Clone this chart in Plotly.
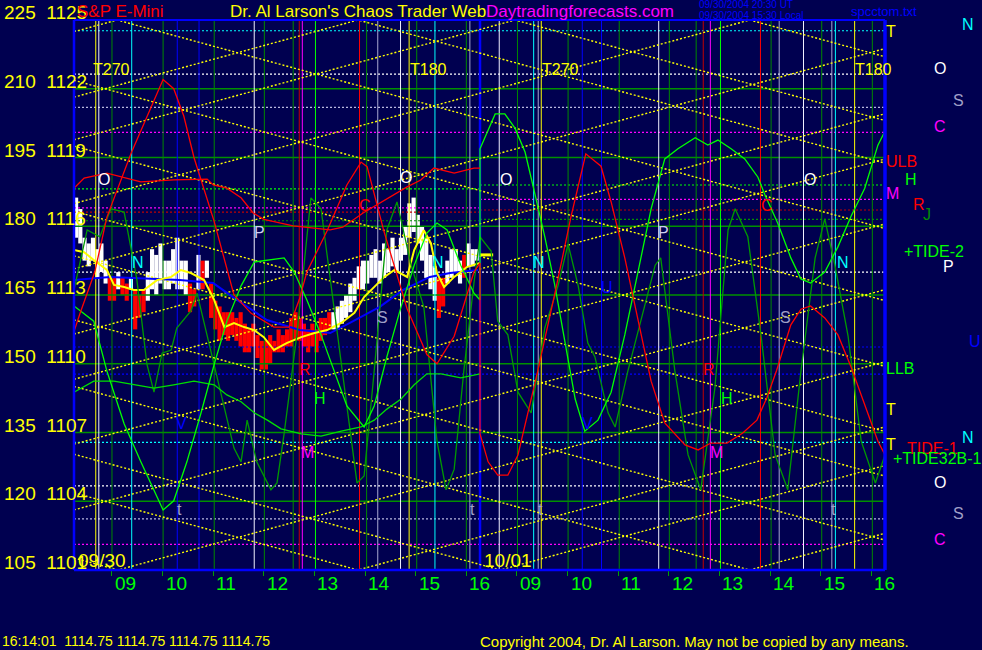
import plotly.graph_objects as go

# ------------------------------------------------------------------ data
price_ticks = [1125, 1122, 1119, 1116, 1113, 1110, 1107, 1104, 1101]
tide_ticks = [225, 210, 195, 180, 165, 150, 135, 120, 105]
hour_ticks = [9, 10, 11, 12, 13, 14, 15, 16]
hour_labels = ["09", "10", "11", "12", "13", "14", "15", "16"]
day_labels = ["09/30", "10/01"]
last_price = 1114.75

# 5-minute price bars, day 1 (09/30), 08:15 .. 16:15
bar_high = [1117.25, 1116.75, 1115.5, 1115.25, 1115.5, 1115.0, 1115.25, 1114.5,
            1113.75, 1113.75, 1114.0, 1113.75, 1113.5, 1113.75, 1113.25, 1113.0, 1113.25, 1114.0, 1115.0, 1114.75,
            1115.25, 1114.5, 1114.5, 1115.0, 1115.5, 1114.5, 1114.5, 1113.5, 1113.25, 1114.75, 1114.5, 1114.5,
            1113.5, 1112.75, 1112.5, 1112.25, 1112.25, 1112.25, 1112.0, 1112.25, 1111.75, 1111.5, 1111.75, 1111.25,
            1111.0, 1111.0, 1111.25, 1111.0, 1111.5, 1111.25, 1111.5, 1112.0, 1112.25, 1112.0, 1111.75, 1111.5,
            1111.75, 1111.5, 1112.0, 1112.0, 1112.25, 1112.25, 1112.5, 1112.75, 1113.0, 1113.5, 1113.75, 1114.25,
            1114.5, 1114.5, 1114.75, 1115.0, 1114.5, 1115.25, 1115.0, 1115.5, 1115.0, 1115.5, 1116.0, 1117.0,
            1117.25, 1116.5, 1116.0, 1115.5, 1114.75, 1114.25, 1113.75, 1113.75, 1114.5, 1115.0, 1115.0, 1114.5,
            1114.75, 1115.25, 1115.0, 1115.0]
bar_low = [1115.5, 1115.25, 1114.5, 1114.25, 1114.5, 1113.75, 1114.0, 1113.5,
           1112.75, 1112.75, 1113.25, 1113.0, 1112.75, 1113.25, 1111.5, 1112.0, 1112.25, 1112.75, 1113.25, 1113.0,
           1113.5, 1113.25, 1113.25, 1113.5, 1113.25, 1113.25, 1113.0, 1112.25, 1112.5, 1113.25, 1113.25, 1113.75,
           1112.0, 1111.5, 1111.0, 1111.25, 1111.0, 1111.25, 1111.0, 1110.75, 1110.5, 1110.5, 1110.75, 1110.25,
           1109.75, 1109.75, 1110.0, 1110.5, 1110.5, 1110.5, 1110.75, 1110.75, 1111.0, 1111.0, 1110.75, 1110.5,
           1110.75, 1110.5, 1111.0, 1111.25, 1111.5, 1111.5, 1111.5, 1111.75, 1112.0, 1112.25, 1112.75, 1113.25,
           1113.25, 1113.5, 1113.75, 1113.75, 1113.5, 1113.75, 1114.0, 1114.25, 1114.0, 1114.5, 1114.75, 1115.5,
           1115.75, 1115.25, 1114.5, 1113.75, 1113.25, 1112.75, 1112.0, 1112.5, 1113.5, 1113.75, 1114.0, 1113.5,
           1113.75, 1114.25, 1114.25, 1114.5]
bar_up = [1, 1, 1, 1, 1, 1, 1, 1,
          0, 0, 1, 0, 0, 1, 0, 0, 0, 1, 1, 1,
          1, 1, 1, 1, 1, 1, 1, 0, 0, 1, 0, 1,
          0, 0, 0, 0, 0, 0, 0, 0, 0, 0, 0, 0,
          0, 0, 0, 0, 0, 0, 0, 0, 0, 0, 0, 0,
          0, 0, 0, 0, 0, 1, 1, 1, 1, 1, 1, 1,
          1, 1, 1, 1, 1, 1, 1, 1, 1, 1, 1, 1,
          1, 1, 1, 1, 1, 1, 0, 0, 1, 1, 1, 1,
          0, 1, 1, 1]
bar_t = [8.25 + (i + 0.5) / 12 for i in range(len(bar_high))]

# smoothed price lines (day 1)
ma_fast_t = [8.25, 8.45, 8.64, 8.90, 9.04, 9.24, 9.43, 9.63, 9.89, 10.17, 10.36, 10.56, 10.82, 11.02, 11.22,
             11.41, 11.61, 11.81, 12.00, 12.20, 12.46, 12.74, 13.00, 13.25, 13.53, 13.79, 13.98, 14.18, 14.38,
             14.58, 14.83, 14.97, 15.16, 15.30, 15.42, 15.56, 15.76, 16.01, 16.27]
ma_fast_v = [1114.96, 1114.87, 1114.53, 1114.09, 1113.44, 1113.35, 1113.22, 1113.22, 1113.65, 1113.79, 1114.09,
             1113.96, 1113.65, 1112.78, 1111.60, 1111.78, 1111.60, 1111.47, 1111.16, 1110.60, 1110.91, 1111.16,
             1111.34, 1111.47, 1111.78, 1112.22, 1112.91, 1113.35, 1113.79, 1114.09, 1113.79, 1114.96, 1115.83,
             1115.26, 1113.96, 1113.35, 1113.79, 1114.22, 1114.40]
ma_slow_t = [8.25, 8.96, 10.34, 11.0, 11.39, 12.06, 12.71, 13.31, 13.70, 14.29, 14.75, 15.28, 15.68, 16.23]
ma_slow_v = [1113.65, 1113.79, 1113.65, 1113.52, 1112.91, 1111.91, 1111.47, 1111.34, 1111.78, 1112.48,
             1113.22, 1113.79, 1113.96, 1114.09]

# tide curves (left scale 105..225)
tide1_d1_t = [8.25, 8.37, 8.66, 8.90, 9.38, 10.01, 10.22, 10.42, 10.62, 11.02, 11.41, 11.75, 12.20, 12.50,
              12.70, 12.85, 13.25, 13.64, 13.92, 14.04, 14.37, 14.83, 15.22, 15.42, 15.76, 16.15, 16.27]
tide1_d1_v = [157, 161, 170, 182, 196, 212, 210, 204, 195, 181, 165, 161, 158, 158, 164, 170, 179, 189, 194,
              193, 179, 162, 152, 150, 156, 170, 172]
tide1_d2_t = [8.27, 8.43, 8.62, 8.82, 9.02, 9.41, 9.75, 10.07, 10.36, 10.66, 10.86, 11.13, 11.39, 11.65,
              11.92, 12.32, 12.58, 12.83, 13.15, 13.46, 13.74, 13.94, 14.13, 14.41, 14.61, 14.80, 15.08, 15.34,
              15.60, 15.87, 16.13, 16.27]
tide1_d2_v = [134.7, 128.6, 125.7, 125.7, 130.1, 148.4, 165.4, 182.2, 195.8, 193.1, 185.3, 173.1, 160.0, 146.2,
              137.1, 132.3, 131.2, 132.7, 132.7, 134.9, 137.7, 142.7, 148.6, 158.5, 161.9, 162.6, 160.0, 156.3,
              149.3, 140.8, 133.1, 130.1]
ulb_d1_t = [8.25, 8.45, 8.90, 9.57, 10.22, 10.88, 11.0, 11.27, 11.55, 11.79, 12.0, 12.58, 13.31, 13.56, 13.96,
            14.29, 14.63, 14.83, 15.1, 15.36, 15.76, 16.15, 16.27]
ulb_d1_v = [188.3, 190.5, 191.6, 189.7, 190.1, 190.3, 189.0, 188.3, 186.2, 182.9, 181.5, 180.1, 179.2, 179.8,
            182.9, 185.1, 187.3, 188.6, 190.1, 192.7, 191.6, 192.7, 192.7]
tide2_d1_t = [8.25, 8.64, 8.90, 9.24, 9.57, 10.01, 10.22, 10.48, 10.76, 11.02, 11.27, 11.55, 11.81, 12.40,
              12.60, 12.85, 13.13, 13.39, 13.64, 13.98, 14.18, 14.43, 14.71, 14.97, 15.22, 15.42, 15.62, 15.89,
              16.15, 16.27]
tide2_d1_v = [162.6, 159.3, 148.4, 136.9, 128.6, 118.1, 120.1, 128.6, 139.3, 149.9, 159.3, 167.0, 172.2, 173.1,
              170.0, 163.9, 156.3, 148.4, 140.8, 136.2, 140.8, 151.5, 162.4, 171.5, 178.5, 180.7, 179.2, 171.5,
              165.4, 163.9]
tide2_d2_t = [8.27, 8.57, 8.76, 8.96, 9.16, 9.36, 9.55, 9.75, 9.95, 10.15, 10.34, 10.60, 10.86, 11.13, 11.39,
              11.65, 11.92, 12.18, 12.52, 12.77, 12.97, 13.23, 13.50, 13.76, 13.90, 14.15, 14.41, 14.61, 14.80,
              15.08, 15.34, 15.60, 15.87, 16.13, 16.27]
tide2_d2_v = [196.9, 204.5, 204.5, 201.4, 196.2, 186.8, 177.7, 167.0, 154.5, 142.3, 135.3, 137.7, 143.8, 156.3,
              170.0, 183.8, 194.7, 196.9, 199.3, 197.7, 198.8, 196.9, 194.7, 190.7, 186.8, 180.7, 173.1, 168.5,
              167.6, 170.0, 175.5, 182.2, 188.3, 197.7, 200.8]
llb_d1_t = [8.25, 8.64, 9.04, 9.43, 9.83, 10.22, 10.62, 11.02, 11.27, 11.55, 11.81, 12.07, 12.34, 12.74, 13.13,
            13.53, 13.92, 14.18, 14.43, 14.71, 14.97, 15.22, 15.50, 15.89, 16.27]
llb_d1_v = [143.8, 146.2, 146.2, 145.4, 144.7, 145.4, 146.2, 145.4, 143.2, 141.7, 139.3, 137.7, 135.8, 134.7,
            134.2, 135.3, 136.2, 137.7, 140.1, 142.3, 145.4, 147.8, 147.8, 146.9, 147.8]
tide32_d1_t = [8.25, 8.51, 8.76, 8.98, 9.24, 9.49, 9.69, 9.83, 9.99, 10.17, 10.28, 10.56, 10.68, 10.88, 11.15,
               11.41, 11.55, 11.67, 11.86, 12.14, 12.26, 12.40, 12.65, 12.93, 13.13, 13.39, 13.64, 13.84, 13.98,
               14.18, 14.43, 14.63, 14.91, 15.16, 15.42, 15.60, 15.76, 15.95, 16.15, 16.27]
tide32_d1_v = [166.1, 179.2, 177.7, 183.8, 183.1, 168.5, 149.9, 143.8, 152.3, 153.0, 157.8, 161.5, 165.4, 156.3,
               143.8, 131.6, 128.6, 137.7, 128.6, 122.5, 124.0, 134.7, 156.1, 186.2, 183.8, 162.4, 140.8, 124.0,
               125.5, 148.4, 179.2, 185.3, 171.5, 162.4, 133.1, 122.5, 127.0, 148.4, 167.6, 177.7]
tide32_d2_t = [8.27, 8.49, 8.62, 8.82, 9.02, 9.28, 9.55, 9.81, 10.01, 10.21, 10.40, 10.54, 10.80, 10.94, 11.19,
               11.45, 11.73, 11.84, 12.12, 12.38, 12.63, 12.91, 13.17, 13.31, 13.56, 13.82, 14.10, 14.35, 14.61,
               14.89, 15.08, 15.28, 15.54, 15.80, 16.08, 16.27]
tide32_d2_v = [177.7, 174.6, 159.3, 156.3, 143.8, 139.3, 157.8, 167.0, 176.1, 167.0, 154.5, 151.5, 139.3, 136.2,
               148.4, 159.3, 171.5, 173.1, 148.4, 130.1, 122.5, 144.7, 179.2, 183.8, 177.7, 156.3, 130.1, 122.5,
               148.4, 173.1, 181.6, 171.5, 156.1, 133.1, 124.0, 130.1]

# time lines (clock hours) per day
vl_hour_d1 = [9.00, 10.01, 11.02, 12.01, 12.58, 14.03, 15.02, 16.00]
vl_hour_d2 = [9.01, 10.01, 11.02, 12.01, 12.54, 14.02, 15.02, 16.02]
vl_green_d1 = [13.02]
vl_green_d2 = [13.02]
vl_yellow_d1 = [8.68, 14.87]
vl_yellow_d2 = [9.48, 15.67]
vl_white_d1 = [8.74, 11.81, 14.70]
vl_white_d2 = [8.65, 11.80, 14.66]
vl_gray_d1 = [14.25, 16.07]
vl_gray_d2 = [9.42, 14.18, 15.22]
vl_cyan_d1 = [9.39, 15.38]
vl_cyan_d2 = [9.33, 15.29]
vl_blue_d1 = [10.29, 10.72]
vl_blue_d2 = [10.29, 10.67]
vl_dkred_d1 = [12.70]
vl_dkred_d2 = [12.68]
vl_red_d1 = [13.89]
vl_red_d2 = [13.81]
vl_mag_d1 = [12.76]
vl_mag_d2 = [12.82]
day_break = 16.27

# price levels
hl_cyan = [1124.53, 1106.57]
hl_white = [1122.64, 1114.00, 1104.67]
hl_gray = [1121.19, 1103.23]
hl_mag = [1120.10, 1102.12]
hl_blue = [1110.73, 1109.55]
hl_d1_green, hl_d2_green = [1117.63], [1117.80]
hl_d1_mag, hl_d2_mag = [1116.80], [1117.17]
hl_d1_red, hl_d2_red = [1116.62], [1116.71]
hl_d1_dkgreen, hl_d2_dkgreen = [1116.24], [1116.30]

# pivot hours of the time/price fan (hours from 09/30 09:00)
fan_top_pivots = [-14.66, -9.92, -5.14, 0.10, 4.86, 7.96, 12.60, 17.35, 22.09]
fan_bot_pivots = [-14.62, -9.90, -5.12, 0.12, 4.86, 7.67, 12.60, 17.44, 22.10]
fan_slope = 0.6

# ------------------------------------------------------------------ helpers
BG = "#000050"
FONT = "Liberation Sans, Arial, Helvetica, sans-serif"
X_MIN, X_MAX = -0.75, 15.27
P_MIN, P_MAX = 1101.0, 1125.0
T_MIN, T_MAX = 105, 225
L, R, T, B = 74, 97, 20, 80
PW, PH = 982 - L - R, 650 - T - B


def a1(t):
    return t - 9.0


def a2(t):
    return t - 1.0


def seg(x0s, x1s, y0s, y1s, color, width, dash=None, yaxis="y"):
    X, Y = [], []
    for a, b, c, d in zip(x0s, x1s, y0s, y1s):
        X += [a, b, None]
        Y += [c, d, None]
    return go.Scatter(x=X, y=Y, mode="lines", yaxis=yaxis, hoverinfo="skip",
                      line=dict(color=color, width=width, dash=dash))


def vlines(d1, d2, color, width=1):
    xs = [a1(t) for t in d1] + [a2(t) for t in d2]
    return seg(xs, xs, [P_MIN] * len(xs), [P_MAX] * len(xs), color, width)


def hlines(levels, color, x0=X_MIN, x1=X_MAX):
    n = len(levels)
    return seg([x0] * n, [x1] * n, levels, levels, color, 1.2, "2px,2px")


fig = go.Figure()

# green price grid
fig.add_trace(seg([X_MIN] * 7, [X_MAX] * 7, price_ticks[1:-1], price_ticks[1:-1], "#009000", 1.3))

# dotted levels
brk = a1(day_break)
for lv, c in [(hl_cyan, "#00ffff"), (hl_white, "#ffffff"), (hl_gray, "#b8b8e0"),
              (hl_mag, "#ff00ff"), (hl_blue, "#0000ff")]:
    fig.add_trace(hlines(lv, c))
for lv1, lv2, c in [(hl_d1_green, hl_d2_green, "#00ff00"), (hl_d1_mag, hl_d2_mag, "#ff00ff"),
                    (hl_d1_red, hl_d2_red, "#c00000"), (hl_d1_dkgreen, hl_d2_dkgreen, "#009000")]:
    fig.add_trace(hlines(lv1, c, X_MIN, brk))
    fig.add_trace(hlines(lv2, c, brk, X_MAX))

# vertical time lines
fig.add_trace(vlines(vl_hour_d1, vl_hour_d2, "#008800"))
fig.add_trace(vlines(vl_gray_d1, vl_gray_d2, "#a8a8d0"))
fig.add_trace(vlines(vl_white_d1, vl_white_d2, "#f0f0ff"))
fig.add_trace(vlines(vl_cyan_d1, vl_cyan_d2, "#00ffff"))
fig.add_trace(vlines(vl_blue_d1, vl_blue_d2, "#0000ff"))
fig.add_trace(vlines(vl_yellow_d1, vl_yellow_d2, "#ffff00"))
fig.add_trace(vlines(vl_dkred_d1, vl_dkred_d2, "#c00000"))
fig.add_trace(vlines(vl_red_d1, vl_red_d2, "#ff0000"))
fig.add_trace(vlines(vl_mag_d1, vl_mag_d2, "#ff00ff"))
fig.add_trace(vlines(vl_green_d1, vl_green_d2, "#00ff00"))
fig.add_trace(seg([brk], [brk], [P_MIN], [P_MAX], "#0000ff", 2.5))

# fan of dotted time/price lines reflecting off top and bottom
FX, FY = [], []
for piv, base, sgn in [(p, P_MAX, -1) for p in fan_top_pivots] + [(p, P_MIN, 1) for p in fan_bot_pivots]:
    xs = [X_MIN, piv, X_MAX] if X_MIN < piv < X_MAX else [X_MIN, X_MAX]
    FX += xs + [None]
    FY += [base + sgn * fan_slope * abs(x - piv) for x in xs] + [None]
fig.add_trace(go.Scatter(x=FX, y=FY, mode="lines", hoverinfo="skip",
                         line=dict(color="#ffff00", width=1.4, dash="2px,2px")))


# tide curves
def tide_trace(t1, v1, t2, v2, color, width):
    xs = [a1(t) for t in t1] + [a2(t) for t in t2]
    return go.Scatter(x=xs, y=list(v1) + list(v2), yaxis="y2", mode="lines", hoverinfo="skip",
                      line=dict(color=color, width=width))


fig.add_trace(tide_trace(tide32_d1_t, tide32_d1_v, tide32_d2_t, tide32_d2_v, "#009a00", 1.3))
fig.add_trace(tide_trace(llb_d1_t, llb_d1_v, [], [], "#00e000", 1.3))
fig.add_trace(tide_trace(tide2_d1_t, tide2_d1_v, tide2_d2_t, tide2_d2_v, "#00ff00", 1.3))
fig.add_trace(tide_trace(ulb_d1_t, ulb_d1_v, [], [], "#ff0000", 1.3))
fig.add_trace(tide_trace(tide1_d1_t, tide1_d1_v, tide1_d2_t, tide1_d2_v, "#ff0000", 1.3))

# price bars
fig.add_trace(go.Bar(x=[a1(t) for t in bar_t], y=[h - l for h, l in zip(bar_high, bar_low)], base=bar_low,
                     width=0.082, marker=dict(color=["#ffffff" if u else "#ff0000" for u in bar_up],
                                              line=dict(width=0)), hoverinfo="skip"))
fig.add_trace(go.Scatter(x=[a1(t) for t in ma_slow_t], y=ma_slow_v, mode="lines", hoverinfo="skip",
                         line=dict(color="#0000ff", width=2)))
fig.add_trace(go.Scatter(x=[a1(t) for t in ma_fast_t], y=ma_fast_v, mode="lines", hoverinfo="skip",
                         line=dict(color="#ffff00", width=2)))
fig.add_trace(go.Scatter(x=[brk, brk + 0.26], y=[last_price, last_price], mode="lines", hoverinfo="skip",
                         line=dict(color="#ffff00", width=3)))


# ------------------------------------------------------------------ text
def px(X):
    return (X - L) / PW


def py(Y):
    return (650 - B - Y) / PH


ann = []


def text(s, X, Y, color, size, anchor="left"):
    ann.append(dict(text=s, x=px(X), y=py(Y), xref="paper", yref="paper", xanchor=anchor, yanchor="middle",
                    showarrow=False, borderpad=0, font=dict(family=FONT, size=size, color=color)))


def dtext(s, x, y, color, size=16):
    ann.append(dict(text=s, x=x, y=y, xref="x", yref="y", xanchor="center", yanchor="middle",
                    showarrow=False, font=dict(family=FONT, size=size, color=color)))


# left scale
for tv, pv in zip(tide_ticks, price_ticks):
    ann.append(dict(text=f"{tv}&nbsp;&nbsp;{pv}", x=px(2), y=pv, xref="paper", yref="y", xanchor="left",
                    yanchor="bottom", yshift=-5, showarrow=False,
                    font=dict(family=FONT, size=19, color="#ffff00")))
# hour labels
for conv in (a1, a2):
    for h, lab in zip(hour_ticks, hour_labels):
        ann.append(dict(text=lab, x=conv(h), y=0, xref="x", yref="paper", xanchor="left", yanchor="top",
                        xshift=1, yshift=-1, showarrow=False,
                        font=dict(family=FONT, size=19, color="#00ff00")))
text(day_labels[0], 77, 560, "#ffff00", 19)
text(day_labels[1], 483, 560, "#ffff00", 19)

# header / footer
text("S&amp;P E-Mini", 76, 11, "#ff0000", 17)
text("Dr. Al Larson's Chaos Trader Web", 229, 11, "#ffff00", 17)
text("Daytradingforecasts.com", 485, 11, "#ff00ff", 17)
text("09/30/2004 20:30 UT", 698, 5, "#0000ff", 10)
text("09/30/2004 15:30 Local", 698, 15, "#0000ff", 10)
text("spcctom.txt", 850, 11, "#0000ff", 13)
text("16:14:01&nbsp;&nbsp;1114.75 1114.75 1114.75 1114.75", 1, 641, "#ffff00", 14)
text("Copyright 2004, Dr. Al Larson. May not be copied by any means.", 479, 641, "#ffff00", 15)

# in-chart markers
dtext("T270", a1(9.0), 1122.86, "#ffff00")
dtext("T180", a1(15.26), 1122.86, "#ffff00")
dtext("T270", a2(9.86), 1122.86, "#ffff00")
dtext("T180", a2(16.05), 1122.86, "#ffff00")
for d, conv in [(1, a1), (2, a2)]:
    dtext("O", conv(8.84 if d == 1 else 14.79), 1118.05, "#ffffff")
    dtext("N", conv(9.51 if d == 1 else 15.44), 1114.44, "#00ffff")
    dtext("P", conv(11.92 if d == 1 else 11.89), 1115.71, "#d0d0f0")
    dtext("S", conv(14.35 if d == 1 else 14.30), 1112.04, "#a0a0c8")
    dtext("C", conv(14.00 if d == 1 else 13.94), 1116.9, "#ff0000")
    dtext("R", conv(12.81 if d == 1 else 12.79), 1109.73, "#ff0000")
    dtext("H", conv(13.11 if d == 1 else 13.15), 1108.5, "#00ff00")
    dtext("M", conv(12.87 if d == 1 else 12.95), 1106.11, "#ff00ff")
    dtext("t", conv(10.34 if d == 1 else 15.26), 1103.66, "#a0a0c8")
    dtext("V", conv(10.38 if d == 1 else 10.40), 1107.4, "#0000ff")
dtext("O", a2(8.78), 1118.05, "#ffffff")
dtext("N", a2(9.44), 1114.44, "#00ffff")
dtext("O", a1(14.81), 1118.11, "#ffffff")
dtext("N", a1(15.44), 1114.44, "#00ffff")
dtext("t", a1(16.13), 1103.66, "#a0a0c8")
dtext("t", a2(9.47), 1103.66, "#a0a0c8")
dtext("U", a2(10.78), 1113.31, "#0000ff")

# right side legend letters
side = [("T", 885, 31, "#ffff00"), ("N", 961, 24, "#00ffff"), ("O", 933, 68, "#ffffff"),
        ("S", 952, 101, "#a0a0c8"), ("C", 933, 126, "#ff00ff"), ("ULB", 885, 161, "#ff0000"),
        ("H", 904, 179, "#00ff00"), ("M", 885, 193, "#ff00ff"), ("R", 912, 204, "#ff0000"),
        ("J", 922, 214, "#009000"), ("+TIDE-2", 903, 251, "#00ff00"), ("P", 942, 266, "#ffffff"),
        ("U", 968, 341, "#0000ff"), ("LLB", 885, 368, "#00ff00"), ("T", 885, 409, "#ffff00"),
        ("N", 961, 437, "#00ffff"), ("T", 885, 444, "#ffff00"), ("TIDE-1", 906, 448, "#ff0000"),
        ("+TIDE32B-1", 892, 458, "#00ff00"), ("O", 933, 482, "#ffffff"), ("S", 952, 513, "#a0a0c8"),
        ("C", 933, 539, "#ff00ff")]
for s, X, Y, c in side:
    text(s, X, Y, c, 16)

shapes = [
    dict(type="line", xref="paper", yref="paper", x0=0, x1=0, y0=0, y1=1, line=dict(color="#0000ff", width=2.5)),
    dict(type="line", xref="paper", yref="paper", x0=0, x1=1, y0=1, y1=1, line=dict(color="#0000ff", width=2)),
    dict(type="line", xref="paper", yref="paper", x0=0, x1=1, y0=0, y1=0, line=dict(color="#0000ff", width=2.5)),
    dict(type="line", xref="paper", yref="paper", x0=1, x1=1, y0=0, y1=1, line=dict(color="#0000ff", width=3.5)),
]

fig.update_layout(
    width=982, height=650, autosize=False,
    margin=dict(l=L, r=R, t=T, b=B, pad=0),
    paper_bgcolor=BG, plot_bgcolor=BG, showlegend=False, barmode="overlay",
    xaxis=dict(range=[X_MIN, X_MAX], showgrid=False, zeroline=False, showline=False,
               tickvals=[a1(h) for h in hour_ticks] + [a2(h) for h in hour_ticks],
               ticks="outside", ticklen=5, tickwidth=1, tickcolor="#00a000", showticklabels=False,
               fixedrange=True),
    yaxis=dict(range=[P_MIN, P_MAX], showgrid=False, zeroline=False, showline=False,
               showticklabels=False, ticks="", fixedrange=True),
    yaxis2=dict(range=[T_MIN, T_MAX], overlaying="y", visible=False, fixedrange=True),
    annotations=ann, shapes=shapes,
)

fig.write_html("out.html", config={"displayModeBar": False},
               post_script="document.body.style.margin='0';document.body.style.overflow='hidden';")
